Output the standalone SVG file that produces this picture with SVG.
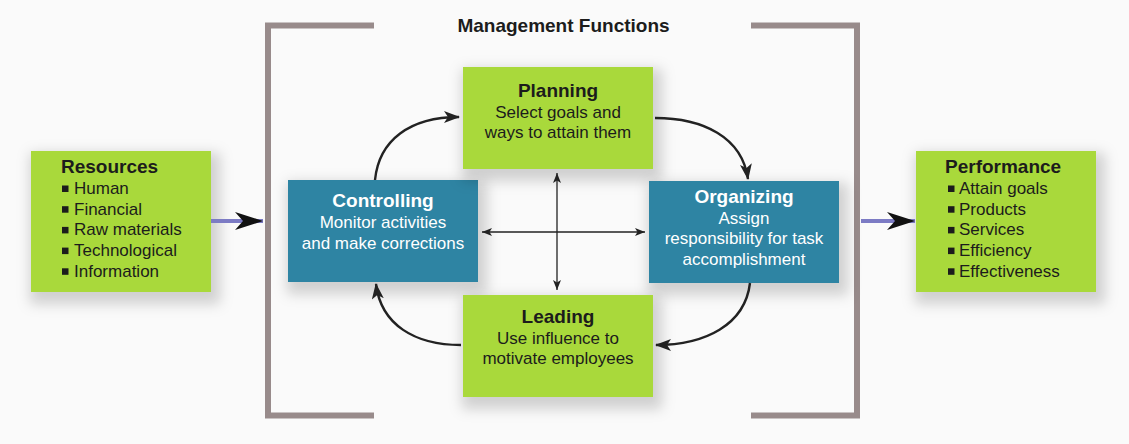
<svg xmlns="http://www.w3.org/2000/svg" width="1129" height="444" viewBox="0 0 1129 444">
  <style>
    .green { fill: #a9d93b; }
    .teal { fill: #2f84a3; }
    .title { font-family: "Liberation Sans", Arial, sans-serif; font-weight: bold; font-size: 19px; fill: #1c1c1c; }
    .body { font-family: "Liberation Sans", Arial, sans-serif; font-size: 17px; fill: #1c1c1c; }
    .light { fill: #ffffff; }
    .bullet { fill: #1c1c1c; }
    .bracket { fill: none; stroke: #988b8b; stroke-width: 6; }
    .curve { fill: none; stroke: #222222; stroke-width: 2.4; }
    .cross { fill: none; stroke: #222222; stroke-width: 1.3; }
    .feed { fill: none; stroke: #7c7bc4; stroke-width: 4; }
  </style>
  <defs>
    <filter id="halo" x="-25%" y="-25%" width="160%" height="170%">
      <feMorphology in="SourceAlpha" operator="dilate" radius="5" result="d"/>
      <feGaussianBlur in="d" stdDeviation="6.5" result="b"/>
      <feOffset in="b" dx="4" dy="7" result="o"/>
      <feFlood flood-color="#000000" flood-opacity="0.17"/>
      <feComposite in2="o" operator="in" result="s"/>
      <feMerge><feMergeNode in="s"/><feMergeNode in="SourceGraphic"/></feMerge>
    </filter>
    <marker id="curveHead" viewBox="0 0 16 12" refX="15" refY="6" markerWidth="16" markerHeight="12" markerUnits="userSpaceOnUse" orient="auto">
      <path d="M0,0 L16,6 L0,12 L4,6 Z" fill="#222222"/>
    </marker>
    <marker id="crossHead" viewBox="0 0 10 8" refX="10" refY="4" markerWidth="10" markerHeight="8" markerUnits="userSpaceOnUse" orient="auto-start-reverse">
      <path d="M0,0 L10,4 L0,8 L2.5,4 Z" fill="#222222"/>
    </marker>
    <marker id="feedHead" viewBox="0 0 28 18" refX="28" refY="9" markerWidth="28" markerHeight="18" markerUnits="userSpaceOnUse" orient="auto">
      <path d="M0,0 L28,9 L0,18 L8,9 Z" fill="#111111"/>
    </marker>
  </defs>

  <rect width="1129" height="444" fill="#fafafa"/>

  <!-- bracket framing the management functions -->
  <g id="frame">
    <path class="bracket" d="M374,25.5 H268 V415.5 H374"/>
    <path class="bracket" d="M751,25.5 H857 V415.5 H751"/>
    <text class="title" x="563.5" y="32" text-anchor="middle">Management Functions</text>
  </g>

  <g id="resources">
    <rect class="green" x="31" y="151" width="180" height="141" filter="url(#halo)"/>
    <text class="title" x="61" y="173">Resources</text>
    <rect class="bullet" x="62" y="185.5" width="6.5" height="6.5"/>
    <rect class="bullet" x="62" y="206.2" width="6.5" height="6.5"/>
    <rect class="bullet" x="62" y="226.9" width="6.5" height="6.5"/>
    <rect class="bullet" x="62" y="247.6" width="6.5" height="6.5"/>
    <rect class="bullet" x="62" y="268.3" width="6.5" height="6.5"/>
    <text class="body" x="74" y="194">Human</text>
    <text class="body" x="74" y="214.7">Financial</text>
    <text class="body" x="74" y="235.4">Raw materials</text>
    <text class="body" x="74" y="256.1">Technological</text>
    <text class="body" x="74" y="276.8">Information</text>
  </g>

  <g id="controlling">
    <rect class="teal" x="288" y="180" width="190" height="102" filter="url(#halo)"/>
    <text class="title light" x="383" y="207" text-anchor="middle">Controlling</text>
    <text class="body light" x="383" y="228" text-anchor="middle">Monitor activities</text>
    <text class="body light" x="383" y="248.5" text-anchor="middle">and make corrections</text>
  </g>

  <g id="planning">
    <rect class="green" x="463" y="67" width="190" height="102" filter="url(#halo)"/>
    <text class="title" x="558" y="96.5" text-anchor="middle">Planning</text>
    <text class="body" x="558" y="117.5" text-anchor="middle">Select goals and</text>
    <text class="body" x="558" y="138" text-anchor="middle">ways to attain them</text>
  </g>

  <g id="organizing">
    <rect class="teal" x="649" y="181" width="190" height="102" filter="url(#halo)"/>
    <text class="title light" x="744" y="202.5" text-anchor="middle">Organizing</text>
    <text class="body light" x="744" y="223.5" text-anchor="middle">Assign</text>
    <text class="body light" x="744" y="244" text-anchor="middle">responsibility for task</text>
    <text class="body light" x="744" y="264.5" text-anchor="middle">accomplishment</text>
  </g>

  <g id="leading">
    <rect class="green" x="463" y="295" width="190" height="102" filter="url(#halo)"/>
    <text class="title" x="558" y="323" text-anchor="middle">Leading</text>
    <text class="body" x="558" y="343.5" text-anchor="middle">Use influence to</text>
    <text class="body" x="558" y="364" text-anchor="middle">motivate employees</text>
  </g>

  <g id="performance">
    <rect class="green" x="916" y="151" width="180" height="141" filter="url(#halo)"/>
    <text class="title" x="945" y="173">Performance</text>
    <rect class="bullet" x="948" y="185.5" width="6.5" height="6.5"/>
    <rect class="bullet" x="948" y="206.2" width="6.5" height="6.5"/>
    <rect class="bullet" x="948" y="226.9" width="6.5" height="6.5"/>
    <rect class="bullet" x="948" y="247.6" width="6.5" height="6.5"/>
    <rect class="bullet" x="948" y="268.3" width="6.5" height="6.5"/>
    <text class="body" x="959" y="194">Attain goals</text>
    <text class="body" x="959" y="214.7">Products</text>
    <text class="body" x="959" y="235.4">Services</text>
    <text class="body" x="959" y="256.1">Efficiency</text>
    <text class="body" x="959" y="276.8">Effectiveness</text>
  </g>

  <g id="connectors">
    <!-- inputs and outputs -->
    <path class="feed" d="M211,221 H263" marker-end="url(#feedHead)"/>
    <path class="feed" d="M861,221 H915" marker-end="url(#feedHead)"/>
    <!-- cycle between the four functions -->
    <path class="curve" d="M375,180 C379,140 410,117 459,117" marker-end="url(#curveHead)"/>
    <path class="curve" d="M655,118 C703,118 742,137 748,179" marker-end="url(#curveHead)"/>
    <path class="curve" d="M750,283 C745,325 705,345 656,345" marker-end="url(#curveHead)"/>
    <path class="curve" d="M461,345 C415,345 381,325 376,284" marker-end="url(#curveHead)"/>
    <!-- central cross -->
    <path class="cross" d="M557,173 V290" marker-start="url(#crossHead)" marker-end="url(#crossHead)"/>
    <path class="cross" d="M482,232 H645" marker-start="url(#crossHead)" marker-end="url(#crossHead)"/>
  </g>
</svg>
